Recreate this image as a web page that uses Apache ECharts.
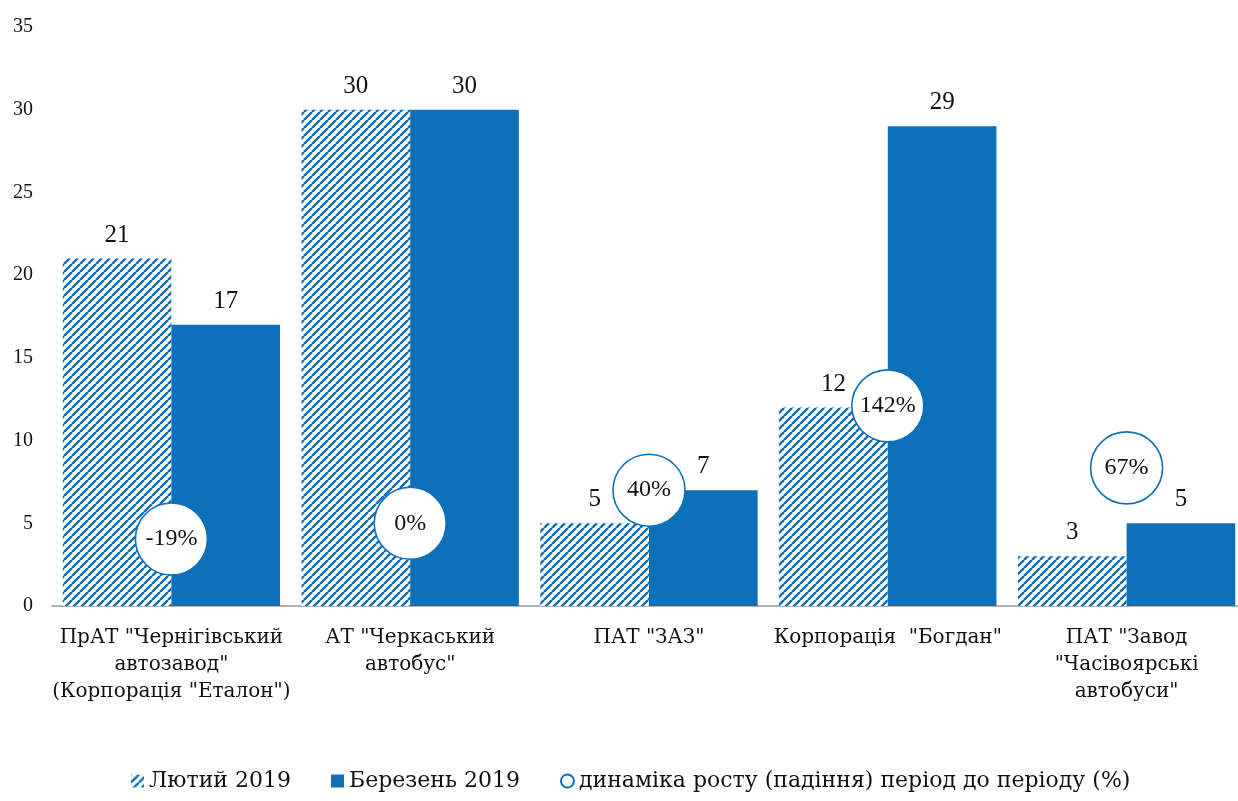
<!DOCTYPE html>
<html>
<head>
<meta charset="utf-8">
<script src="https://cdn.jsdelivr.net/npm/echarts@6/dist/echarts.min.js"></script>
<style>html,body{margin:0;padding:0;background:#fff}#c{width:1238px;height:801px}</style>
</head>
<body>
<div id="c"></div>
<script>
const categories = [
  'ПрАТ "Чернігівський\nавтозавод"\n(Корпорація "Еталон")',
  'АТ "Черкаський\nавтобус"',
  'ПАТ "ЗАЗ"',
  'Корпорація  "Богдан"',
  'ПАТ "Завод\n"Часівоярські\nавтобуси"'
];
const febValues = [21, 30, 5, 12, 3];
const marValues = [17, 30, 7, 29, 5];
const growthPct = [-19, 0, 40, 142, 67];
const yTicks = [0, 5, 10, 15, 20, 25, 30, 35];
const seriesNames = ['Лютий 2019', 'Березень 2019', 'динаміка росту (падіння) період до періоду (%)'];

const BLUE = '#0D70B8';
const FONT = 'DejaVu Serif';
const NUMFONT = 'Liberation Serif';

function hatch() {
  const s = 8;
  const c = document.createElement('canvas');
  c.width = s; c.height = s;
  const g = c.getContext('2d');
  g.fillStyle = '#fff';
  g.fillRect(0, 0, s, s);
  g.strokeStyle = BLUE;
  g.lineWidth = 2.4;
  g.beginPath();
  for (const o of [-s, 0, s]) {
    g.moveTo(o, s);
    g.lineTo(o + s, 0);
  }
  g.stroke();
  return c;
}
const hatchFill = { image: hatch(), repeat: 'repeat' };

const chart = echarts.init(document.getElementById('c'));
chart.setOption({
  animation: false,
  textStyle: { fontFamily: FONT },
  grid: { left: 52, top: 27, right: -8, bottom: 195, outerBoundsMode: 'none', containLabel: false },
  legend: {
    bottom: 4,
    left: 126,
    itemWidth: 13,
    itemHeight: 13,
    itemGap: 40,
    textStyle: { fontFamily: FONT, fontSize: 22, color: '#111' },
    data: [
      { name: seriesNames[0], icon: 'rect' },
      { name: seriesNames[1], icon: 'rect' },
      { name: seriesNames[2], icon: 'circle' }
    ]
  },
  xAxis: {
    type: 'category',
    data: categories,
    axisLine: { lineStyle: { color: '#999', width: 1.5 } },
    axisTick: { length: 7, lineStyle: { color: '#999', width: 1.5 } },
    axisLabel: { fontFamily: FONT, fontSize: 20, color: '#111', lineHeight: 27, margin: 18, interval: 0 }
  },
  yAxis: [
    {
      type: 'value', min: 0, max: 35, interval: 5,
      axisLine: { show: false }, axisTick: { show: false }, splitLine: { show: false },
      axisLabel: { fontFamily: NUMFONT, fontSize: 20, color: '#111', margin: 19,
        formatter: v => yTicks.includes(v) ? String(v) : '' }
    },
    { type: 'value', min: -100, max: 600, show: false }
  ],
  series: [
    {
      name: seriesNames[0], type: 'bar', data: febValues,
      barCategoryGap: '9%', barGap: '0%',
      itemStyle: { color: hatchFill },
      label: { show: true, position: 'top', distance: 11, fontFamily: NUMFONT, fontSize: 25, color: '#111' }
    },
    {
      name: seriesNames[1], type: 'bar', data: marValues,
      barCategoryGap: '9%', barGap: '0%',
      itemStyle: { color: BLUE },
      label: { show: true, position: 'top', distance: 11, fontFamily: NUMFONT, fontSize: 25, color: '#111' }
    },
    {
      name: seriesNames[2], type: 'scatter', yAxisIndex: 1, data: growthPct,
      symbol: 'circle', symbolSize: 72, z: 5,
      itemStyle: { color: '#fff', borderColor: BLUE, borderWidth: 1.6, opacity: 1 },
      label: { show: true, position: 'inside', fontFamily: NUMFONT, fontSize: 24, color: '#111',
        formatter: p => p.value + '%' }
    }
  ]
});
</script>
</body>
</html>
